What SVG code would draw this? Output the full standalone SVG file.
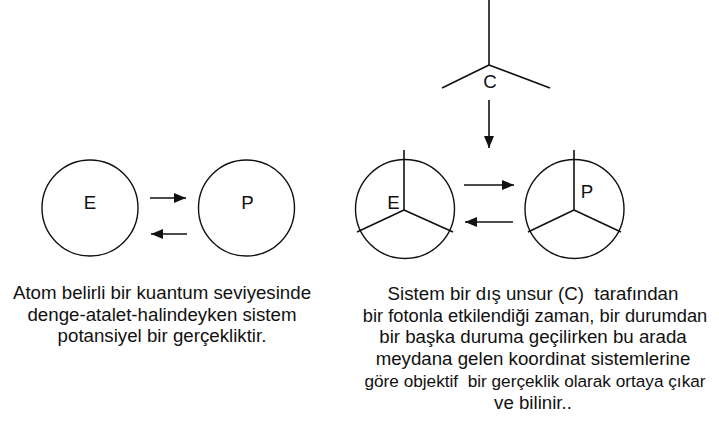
<svg xmlns="http://www.w3.org/2000/svg" width="719" height="421" viewBox="0 0 719 421">
<style>
.c{fill:none;stroke:#111;stroke-width:1.4}
.l{stroke:#111;stroke-width:1.6;fill:none}
.t{font-family:"Liberation Sans",Arial,sans-serif;font-size:18.7px;fill:#111;text-anchor:middle;white-space:pre}
</style>
<defs>
<marker id="ah" viewBox="0 0 12 10" refX="12" refY="5" markerWidth="12" markerHeight="10" markerUnits="userSpaceOnUse" orient="auto">
<path d="M0,0 L12,5 L0,10 z" fill="#111"/>
</marker>
</defs>
<rect width="719" height="421" fill="#fff"/>
<g id="E1">
<circle class="c" cx="90" cy="208" r="48"/>
<text class="t" x="90" y="209">E</text>
</g>
<g id="P1">
<circle class="c" cx="246.5" cy="208" r="48"/>
<text class="t" x="247.5" y="209">P</text>
</g>
<g id="C">
<line class="l" x1="489" y1="0" x2="489" y2="65"/>
<line class="l" x1="489" y1="65" x2="442" y2="88"/>
<line class="l" x1="489" y1="65" x2="550" y2="88"/>
<text class="t" x="490" y="88">C</text>
</g>
<g id="E2">
<circle class="c" cx="405" cy="209" r="49.5"/>
<line class="l" x1="404" y1="150" x2="404" y2="210"/>
<line class="l" x1="404" y1="210" x2="357" y2="232"/>
<line class="l" x1="404" y1="210" x2="453" y2="232"/>
<text class="t" x="393.5" y="209">E</text>
</g>
<g id="P2">
<circle class="c" cx="574.5" cy="209" r="49.5"/>
<line class="l" x1="574" y1="150" x2="574" y2="210"/>
<line class="l" x1="574" y1="210" x2="528" y2="232"/>
<line class="l" x1="574" y1="210" x2="621" y2="232"/>
<text class="t" x="587" y="198">P</text>
</g>
<g id="connectors">
<line class="l" x1="150" y1="198" x2="186" y2="198" marker-end="url(#ah)"/>
<line class="l" x1="187" y1="234" x2="151" y2="234" marker-end="url(#ah)"/>
<line class="l" x1="489" y1="100" x2="489" y2="148" marker-end="url(#ah)"/>
<line class="l" x1="464" y1="185" x2="514" y2="185" marker-end="url(#ah)"/>
<line class="l" x1="513" y1="222" x2="465" y2="222" marker-end="url(#ah)"/>
</g>
<g id="caption-left">
<text class="t" x="162" y="299">Atom belirli bir kuantum seviyesinde</text>
<text class="t" x="162" y="321">denge-atalet-halindeyken sistem</text>
<text class="t" x="162" y="342">potansiyel bir gerçekliktir.</text>
</g>
<g id="caption-right">
<text class="t" x="533" y="300">Sistem bir dış unsur (C)  tarafından</text>
<text class="t" x="535" y="322" style="font-size:18.3px">bir fotonla etkilendiği zaman, bir durumdan</text>
<text class="t" x="533" y="343">bir başka duruma geçilirken bu arada</text>
<text class="t" x="533" y="365">meydana gelen koordinat sistemlerine</text>
<text class="t" x="535" y="387" style="font-size:17.2px">göre objektif  bir gerçeklik olarak ortaya çıkar</text>
<text class="t" x="533" y="409">ve bilinir..</text>
</g>
</svg>
